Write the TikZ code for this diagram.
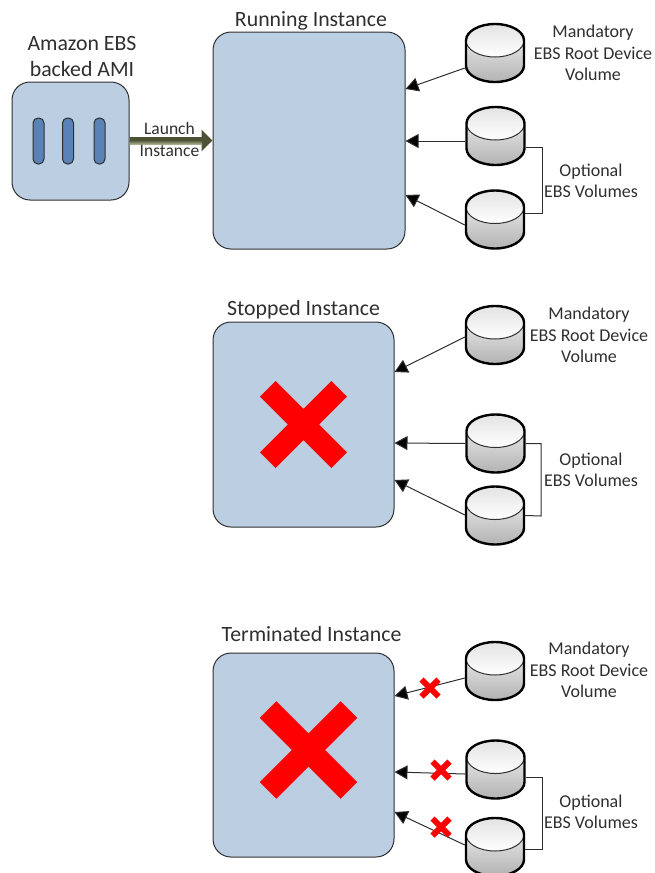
\documentclass[tikz,border=0pt]{standalone}
\usepackage{fontspec}
\setmainfont{Carlito}
\usetikzlibrary{arrows.meta,calc}
\definecolor{boxfill}{HTML}{BCCEE2}
\definecolor{slotfill}{HTML}{5A82B6}
\definecolor{ink}{HTML}{2F2F2F}
\definecolor{launchc}{HTML}{4C5233}
\definecolor{launchl}{HTML}{A8AD8E}
\tikzset{
  x=1pt,y=-1pt,
  inst/.style={draw=ink,line width=1pt,fill=boxfill,rounded corners=18pt,inner sep=0pt},
  slot/.style={draw=ink,line width=1pt,fill=slotfill,rounded corners=5pt,inner sep=0pt,minimum width=11pt,minimum height=46pt},
  cylbox/.style={inner sep=0pt,minimum width=60pt,minimum height=60pt},
  conn/.style={draw=ink,line width=1pt,-{Triangle[length=13pt,width=14pt,fill=black]}},
  brack/.style={draw=ink,line width=1pt},
  lab/.style={inner sep=0pt,align=center,text=ink,font=\fontsize{18}{21.4}\selectfont},
  title/.style={inner sep=0pt,align=center,text=ink,font=\fontsize{21.8}{26}\selectfont},
  launchlab/.style={inner sep=0pt,align=center,text=ink,font=\fontsize{17.5}{22}\selectfont},
  cross/.style={draw=red,line cap=butt},
}
\newcommand{\cylinder}[3]{%
  \node[cylbox] (#1) at (#2,#3) {};
  \begin{scope}[shift={(#1.center)}]
    \shade[top color=gray!5,bottom color=gray!60]
      (-29,-12.5) -- (-29,12.5) arc[start angle=180,end angle=360,x radius=29pt,y radius=16.5pt]
      -- (29,-12.5) arc[start angle=0,end angle=180,x radius=29pt,y radius=16.5pt] -- cycle;
    \shade[top color=gray!22,bottom color=white,draw=ink,line width=1pt]
      (-29,-12.5) arc[start angle=180,end angle=540,x radius=29pt,y radius=16.5pt] -- cycle;
    \draw[black,line width=2.4pt]
      (-29,-12.5) -- (-29,12.5) arc[start angle=180,end angle=360,x radius=29pt,y radius=16.5pt]
      -- (29,-12.5) arc[start angle=0,end angle=180,x radius=29pt,y radius=16.5pt] -- cycle;
  \end{scope}%
}
\newcommand{\redx}[4]{% centre x, y, half extent, thickness
  \draw[cross,line width=#4pt] (#1-#3,#2-#3) -- (#1+#3,#2+#3) (#1-#3,#2+#3) -- (#1+#3,#2-#3);%
}
\begin{document}
\begin{tikzpicture}
\useasboundingbox (0,0) rectangle (654,873);
\clip (0,0) rectangle (654,873);
% AMI
\node[inst,minimum width=117pt,minimum height=118pt] (ami) at (70.5,141) {};
\node[slot] (s1) at (38.5,141) {};
\node[slot] (s2) at (68,141) {};
\node[slot] (s3) at (99.5,141) {};
\node[title] (amit) at (82,57) {Amazon EBS\\backed AMI};
% instance boxes
\node[inst,minimum width=192pt,minimum height=217pt] (r) at (309,140.5) {};
\node[title] (rt) at (311,21) {Running Instance};
\node[inst,minimum width=181pt,minimum height=205pt] (s) at (303.5,424.5) {};
\node[title] (st) at (303.5,309.5) {Stopped Instance};
\node[inst,minimum width=181pt,minimum height=204pt] (t) at (303.5,755) {};
\node[title] (tt) at (311.5,634) {Terminated Instance};
% launch arrow
\draw[launchc,line width=7pt,-{Triangle[length=11pt,width=21pt]}] (ami.east |- 0,140.5) -- (r.west |- 0,140.5);
\shade[top color=launchc,bottom color=launchl] (ami.east |- 0,140) rectangle (202,144);
\node[launchlab] (ll) at (169.5,139) {Launch\\Instance};
% cylinders
\cylinder{ra}{495}{53}
\cylinder{rb}{495.5}{136}
\cylinder{rc}{495}{219.5}
\cylinder{sa}{495}{335}
\cylinder{sb}{495.5}{443.5}
\cylinder{sc}{495}{515.5}
\cylinder{ta}{495}{671}
\cylinder{tb}{495.5}{769.5}
\cylinder{tc}{495}{847}
% connectors, running
\draw[conn] ($(ra.west)+(0,15)$) -- ($(r.east)+(0,-51.5)$);
\draw[conn] ($(rb.west)+(0,5)$) -- ($(r.east)+(0,0.5)$);
\draw[conn] ($(rc.west)+(0,5.5)$) -- ($(r.east)+(0,54.5)$);
\draw[brack] ($(rb.east)+(0,11)$) -| (542,213) -- ($(rc.east)+(0,-6.5)$);
% connectors, stopped
\draw[conn] ($(sa.west)+(0,2)$) -- ($(s.east)+(0,-52.5)$);
\draw[conn] (sb.west) -- ($(s.east)+(0,18.5)$);
\draw[conn] ($(sc.west)+(0,-0.5)$) -- ($(s.east)+(0,55.5)$);
\draw[brack] (sb.east) -| (541,516) -- (sc.east);
% connectors, terminated
\draw[conn] ($(ta.west)+(0,7)$) -- ($(t.east)+(0,-59)$);
\draw[conn] ($(tb.west)+(0,4.5)$) -- ($(t.east)+(0,17)$);
\draw[conn] ($(tc.west)+(0,-2)$) -- ($(t.east)+(0,57)$);
\draw[brack] ($(tb.east)+(0,7.5)$) -| (542,849) -- ($(tc.east)+(0,2)$);
% labels
\node[lab] (la) at (593,53) {Mandatory\\EBS Root Device\\Volume};
\node[lab] (lb) at (591,181) {Optional\\EBS Volumes};
\node[lab] (lc) at (589,335) {Mandatory\\EBS Root Device\\Volume};
\node[lab] (ld) at (591,470) {Optional\\EBS Volumes};
\node[lab] (le) at (589,670) {Mandatory\\EBS Root Device\\Volume};
\node[lab] (lf) at (591,812) {Optional\\EBS Volumes};
% crosses
\redx{303.5}{424.5}{35.7}{22}
\redx{308.5}{750}{40.4}{23.6}
\redx{430}{688}{8.5}{6}
\redx{441}{770}{8.5}{6}
\redx{441}{827}{8.5}{6}
\end{tikzpicture}
\end{document}
